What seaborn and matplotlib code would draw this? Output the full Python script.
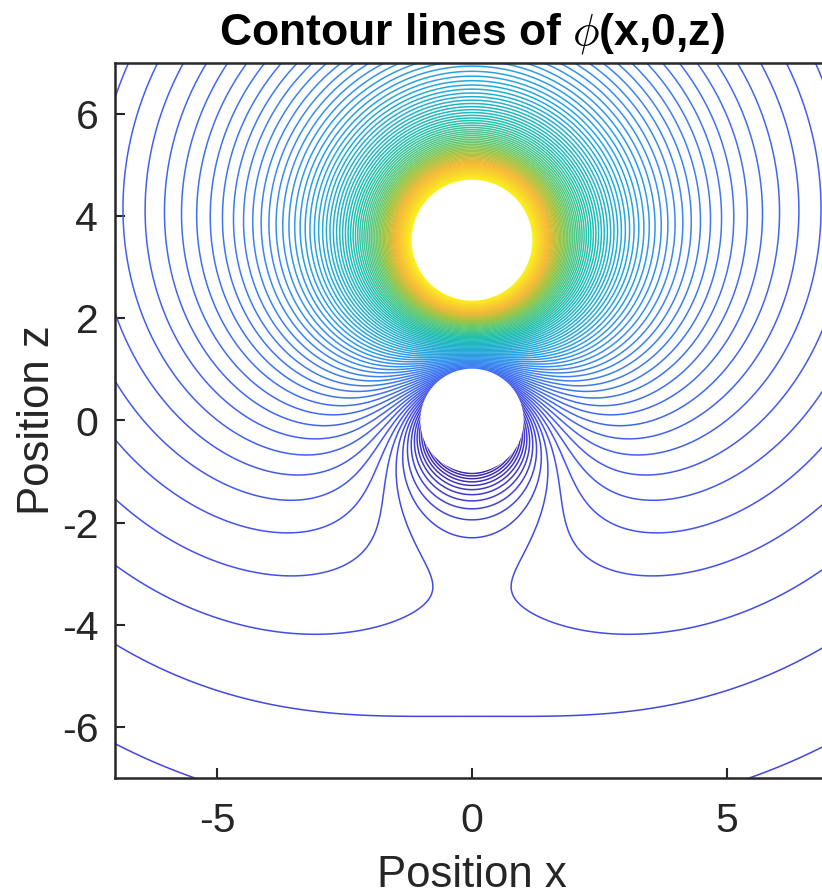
import numpy as np
import seaborn as sns
import matplotlib.pyplot as plt
from matplotlib.colors import LinearSegmentedColormap
from matplotlib.patches import Circle

# source positions and strengths
charge_z = [3.5, 0.0]
charge_q = [4.05, -1.0]
sphere_z = [3.53, 0.0]
sphere_r = [1.17, 1.0]
ticks_x = [-5, 0, 5]
ticks_z = [-6, -4, -2, 0, 2, 4, 6]
level_start = -0.0718
level_step = 0.0335
level_count = 100

parula_pos = [0.0, 0.13, 0.28, 0.36, 0.48, 0.58, 0.66, 0.76, 0.90, 1.0]
parula_colors = ['#3e26a8', '#4353f0', '#3a8cf0', '#25a8dc', '#1fbfb0', '#5fc975', '#a5c440', '#f5ba38', '#fadf28', '#f9fb15']

sns.set_theme(style='white')
plt.rcParams['font.family'] = ['Liberation Sans', 'DejaVu Sans']
plt.rcParams['mathtext.fontset'] = 'cm'
plt.rcParams['axes.unicode_minus'] = False

x = np.linspace(-7, 7, 1401)
z = np.linspace(-7, 7, 1401)
X, Z = np.meshgrid(x, z)
r_top = np.hypot(X, Z - charge_z[0])
r_low = np.hypot(X, Z - charge_z[1])
phi = charge_q[0] / r_top + charge_q[1] / r_low
phi[(r_top < sphere_r[0] - 0.05) | (r_low < sphere_r[1] - 0.05)] = np.nan

levels = level_start + level_step * np.arange(level_count)

fig = plt.figure(figsize=(8.22, 8.96), dpi=100)
ax = fig.add_axes([115 / 822, 1 - 778 / 896, 714 / 822, 715 / 896])
cmap = LinearSegmentedColormap.from_list('parula', list(zip(parula_pos, parula_colors)))
ax.contour(X, Z, phi, levels=levels, cmap=cmap, linewidths=1.1)
for cz, r in zip(sphere_z, sphere_r):
    ax.add_patch(Circle((0, cz), r, color='white', zorder=3))

ax.set_xlim(-7, 7)
ax.set_ylim(-7, 7)
ax.set_xticks(ticks_x)
ax.set_yticks(ticks_z)
ax.tick_params(axis='x', pad=17)
ax.tick_params(axis='y', pad=12)
ax.tick_params(labelsize=29.5, labelcolor='#262626', color='#262626', length=7, width=1.5, direction='in', left=True, bottom=True)
for side in ['top', 'right', 'left', 'bottom']:
    ax.spines[side].set_linewidth(1.8)
    ax.spines[side].set_color('#262626')
ax.set_xlabel('Position x', fontsize=31.5, color='#262626', labelpad=11)
ax.set_ylabel('Position z', fontsize=31.5, color='#262626', labelpad=3)
fig.text(472 / 822, 1 - 34 / 896, r'Contour lines of $\phi$(x,0,z)', fontsize=32, fontweight='bold', ha='center', va='center', color='black')
fig.savefig('out.png', dpi=100)
